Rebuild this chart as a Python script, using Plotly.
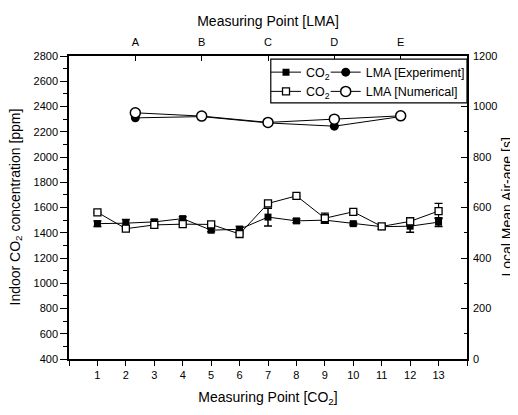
import plotly.graph_objects as go

# ---- data ----
co2_points = list(range(1, 14))
co2_experiment = [1472, 1476, 1486, 1512, 1420, 1428, 1524, 1494, 1500, 1472, 1448, 1452, 1484]
co2_exp_error = [22, 28, 18, 15, 12, 22, 70, 15, 25, 10, 20, 48, 35]
co2_numerical = [1562, 1432, 1462, 1468, 1466, 1390, 1632, 1692, 1515, 1566, 1450, 1490, 1572]
co2_num_error = [0, 0, 0, 0, 0, 0, 0, 0, 40, 0, 0, 30, 60]

lma_points = [1, 2, 3, 4, 5]
lma_labels = ["A", "B", "C", "D", "E"]
lma_experiment = [955, 960, 935, 922, 960]
lma_numerical = [975, 962, 937, 950, 963]

x_ticks = list(range(0, 15))
x_ticklabels = ["" if (v == 0 or v == 14) else str(v) for v in x_ticks]

FONT = "Liberation Sans, Arial, sans-serif"

fig = go.Figure()

fig.add_trace(go.Scatter(
    x=co2_points, y=co2_experiment, mode="lines+markers", name="CO<sub>2</sub>",
    line=dict(color="black", width=1),
    marker=dict(symbol="square", size=7, color="black"),
    error_y=dict(type="data", array=co2_exp_error, color="black", thickness=1.5, width=4),
    legend="legend",
))
fig.add_trace(go.Scatter(
    x=co2_points, y=co2_numerical, mode="lines+markers", name="CO<sub>2</sub>",
    line=dict(color="black", width=1),
    marker=dict(symbol="square", size=7, color="white", line=dict(color="black", width=1.3)),
    error_y=dict(type="data", array=co2_num_error, color="black", thickness=1.2, width=4),
    legend="legend",
))
fig.add_trace(go.Scatter(
    x=lma_points, y=lma_experiment, mode="lines+markers", name="LMA [Experiment]",
    xaxis="x2", yaxis="y2",
    line=dict(color="black", width=1),
    marker=dict(symbol="circle", size=9, color="black"),
    legend="legend2",
))
fig.add_trace(go.Scatter(
    x=lma_points, y=lma_numerical, mode="lines+markers", name="LMA [Numerical]",
    xaxis="x2", yaxis="y2",
    line=dict(color="black", width=1),
    marker=dict(symbol="circle", size=10, color="white", line=dict(color="black", width=1.5)),
    legend="legend2",
))

axis_common = dict(showline=True, linecolor="black", linewidth=1.5, showgrid=False,
                   zeroline=False, tickwidth=1.2, tickcolor="black",
                   tickfont=dict(family=FONT, size=11, color="black"))

# page body has an 8px margin, so the figure is sized to fit the 518x415 window
fig.update_layout(
    width=510, height=407,
    margin=dict(l=61, r=51, t=41, b=49),
    paper_bgcolor="white", plot_bgcolor="white",
    font=dict(family=FONT, color="black", size=11),
    showlegend=True,
    xaxis=dict(range=[0, 14], tickvals=x_ticks, ticktext=x_ticklabels, ticks="outside", ticklen=5,
               title=dict(text="Measuring Point [CO<sub>2</sub>]", font=dict(size=14), standoff=12),
               **axis_common),
    xaxis2=dict(range=[0, 6], overlaying="x", side="top", anchor="y",
                tickvals=lma_points, ticktext=lma_labels, ticks="inside", ticklen=5,
                ticklabelstandoff=4,
                title=dict(text="Measuring Point [LMA]", font=dict(size=14), standoff=6),
                **axis_common),
    yaxis=dict(range=[400, 2800], dtick=200, ticks="outside", ticklen=7,
               minor=dict(dtick=100, ticks="outside", ticklen=4, tickcolor="black", tickwidth=1),
               **axis_common),
    yaxis2=dict(range=[0, 1200], dtick=200, overlaying="y", side="right", anchor="x",
                ticks="inside", ticklen=6, ticklabelstandoff=2,
                minor=dict(dtick=100, ticks="inside", ticklen=3, tickcolor="black", tickwidth=1),
                **axis_common),
    legend=dict(x=0.495, y=0.995, xanchor="left", yanchor="top", bgcolor="rgba(0,0,0,0)",
                borderwidth=0, font=dict(size=12.5), tracegroupgap=0, itemwidth=30),
    legend2=dict(x=0.645, y=0.995, xanchor="left", yanchor="top", bgcolor="rgba(0,0,0,0)",
                 borderwidth=0, font=dict(size=12.5), tracegroupgap=0, itemwidth=30),
    shapes=[dict(type="rect", xref="paper", yref="paper", x0=0.507, x1=1.0, y0=0.845, y1=0.99,
                 line=dict(color="black", width=1.2), fillcolor="white", layer="above")],
    annotations=[
        dict(text="Indoor CO<sub>2</sub> concentration [ppm]", xref="paper", yref="paper",
             x=0, y=0.5, xanchor="center", yanchor="middle", xshift=-54, textangle=-90,
             showarrow=False, font=dict(size=14, family=FONT, color="black")),
        dict(text="Local Mean Air-age [s]", xref="paper", yref="paper",
             x=1, y=0.5, xanchor="center", yanchor="middle", xshift=39, textangle=-90,
             showarrow=False, font=dict(size=14, family=FONT, color="black")),
    ],
)

fig.write_html("out.html")
